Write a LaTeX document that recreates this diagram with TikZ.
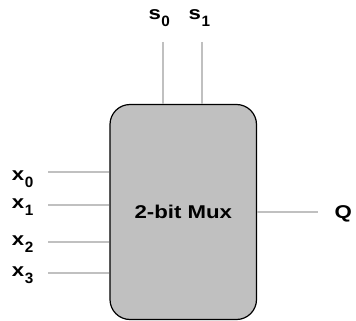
\documentclass[tikz,border=0pt]{standalone}
\usepackage{fontspec}
\setmainfont[FakeStretch=1.2]{Liberation Sans}
\usepackage{tikz}
\usetikzlibrary{positioning}
\definecolor{clBody}{HTML}{C0C0C0}
\definecolor{clWire}{HTML}{C0C0C0}
\newcommand{\pinsub}[1]{\hspace{0.6pt}\raisebox{-7pt}{\scalebox{0.85}[1]{\fontsize{15}{15}\selectfont\bfseries #1}}}
\tikzset{
  muxbox/.style={rectangle, rounded corners=20pt, draw=black, line width=1.2pt,
                 fill=clBody, minimum width=146.5pt, minimum height=215pt,
                 font=\fontsize{18.5}{20}\selectfont\bfseries},
  pinlabel/.style={anchor=base west, inner sep=0pt,
                   font=\fontsize{18.5}{20}\selectfont\bfseries},
  wire/.style={draw=clWire, line width=2.2pt},
}
\begin{document}
\begin{tikzpicture}[x=1pt,y=-1pt]
  \useasboundingbox (0,0) rectangle (356,321);
  \node[muxbox] (mux) at (183.25,212) {2-bit Mux};
  % select lines
  \node[pinlabel] (s0) at (148.3,20) {s\pinsub{0}};
  \node[pinlabel] (s1) at (188.5,20) {s\pinsub{1}};
  \coordinate (s0end) at (163,42);
  \coordinate (s1end) at (202,42);
  \draw[wire] (s0end) -- (s0end |- mux.north);
  \draw[wire] (s1end) -- (s1end |- mux.north);
  % data inputs
  \foreach \i/\y/\b in {0/172/180.5,1/205/208.3,2/242/245.5,3/273/276.5}{
    \node[pinlabel] (x\i) at (11.7,\b) {x\pinsub{\i}};
    \coordinate (x\i end) at (48,\y);
    \draw[wire] (x\i end) -- (x\i end -| mux.west);
  }
  % output
  \node[pinlabel] (q) at (334.5,218) {Q};
  \coordinate (qend) at (318,212);
  \draw[wire] (mux.east |- qend) -- (qend);
\end{tikzpicture}
\end{document}
